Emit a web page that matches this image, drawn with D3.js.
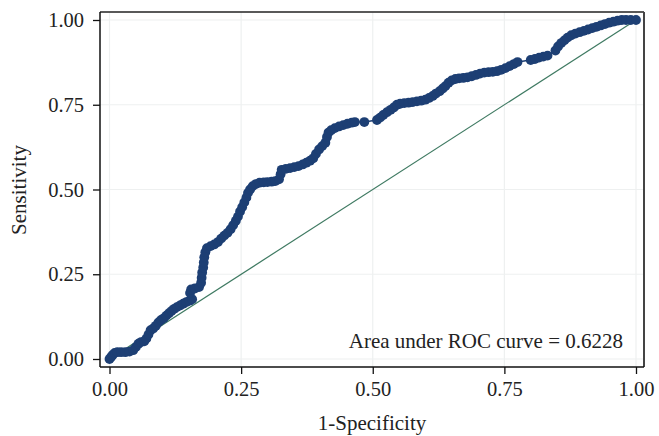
<!DOCTYPE html>
<html><head><meta charset="utf-8">
<script src="https://cdn.jsdelivr.net/npm/d3@7"></script>
<style>body{margin:0;background:#fff}svg{display:block}</style>
</head><body>
<svg id="c" width="659" height="436"></svg>
<script>
// ROC points (1-Specificity, Sensitivity)
const fpr = [0,0.003,0.006,0.01,0.015,0.022,0.03,0.038,0.045,0.05,0.055,0.06,0.066,0.07,0.074,0.078,0.083,0.088,0.093,0.098,0.103,0.108,0.113,0.118,0.123,0.128,0.134,0.14,0.146,0.152,0.157,
0.153,0.155,0.162,0.17,0.174,0.175,0.176,0.178,0.179,0.18,0.182,0.185,0.192,0.199,0.206,0.212,0.218,0.224,0.23,0.235,0.24,0.244,0.248,0.252,0.256,0.26,0.263,0.267,0.272,0.278,0.285,0.293,0.3,0.308,0.315,0.322,0.325,0.327,0.335,0.343,0.351,0.359,0.367,0.374,0.381,0.387,0.392,0.398,0.404,0.41,0.413,0.416,0.421,0.428,0.436,0.444,0.452,0.46,0.466,0.484,
0.508,0.514,0.52,0.527,0.534,0.54,0.546,0.552,0.56,0.568,0.576,0.584,0.592,0.6,0.607,0.614,0.62,0.627,0.633,0.638,0.644,0.65,0.657,0.664,0.672,0.68,0.688,0.696,0.704,0.712,0.72,0.728,0.736,0.744,0.752,0.76,0.768,0.775,
0.8,0.808,0.816,0.824,0.832,0.847,0.852,0.858,0.864,0.87,0.877,0.885,0.893,0.901,0.909,0.917,0.925,0.933,0.941,0.949,0.957,0.965,0.973,0.981,0.99,1];
const tpr = [0,0.006,0.012,0.018,0.02,0.02,0.02,0.022,0.026,0.035,0.045,0.05,0.052,0.06,0.072,0.085,0.09,0.098,0.108,0.115,0.12,0.128,0.135,0.142,0.148,0.153,0.158,0.163,0.168,0.172,0.176,
0.195,0.205,0.208,0.212,0.225,0.24,0.255,0.27,0.285,0.3,0.315,0.327,0.333,0.338,0.345,0.355,0.364,0.372,0.383,0.395,0.408,0.42,0.435,0.448,0.462,0.476,0.49,0.5,0.51,0.516,0.52,0.521,0.522,0.523,0.525,0.53,0.545,0.558,0.561,0.563,0.566,0.569,0.574,0.579,0.585,0.592,0.605,0.618,0.628,0.638,0.655,0.668,0.675,0.681,0.686,0.69,0.694,0.697,0.699,0.699,
0.705,0.712,0.72,0.728,0.735,0.742,0.75,0.753,0.755,0.756,0.758,0.76,0.762,0.765,0.77,0.776,0.783,0.79,0.798,0.805,0.815,0.822,0.826,0.828,0.829,0.831,0.834,0.838,0.842,0.845,0.846,0.847,0.849,0.853,0.858,0.864,0.87,0.876,
0.882,0.885,0.889,0.892,0.895,0.91,0.922,0.932,0.94,0.948,0.955,0.96,0.964,0.968,0.972,0.976,0.98,0.984,0.988,0.992,0.995,0.998,1,1,1,1];
const ticks = [0, 0.25, 0.5, 0.75, 1];
const tickLabels = ["0.00", "0.25", "0.50", "0.75", "1.00"];
const xTitle = "1-Specificity";
const yTitle = "Sensitivity";
const aucText = "Area under ROC curve = 0.6228";

const svg = d3.select("#c");
const frame = {l:100, r:644, t:12, b:367};
const x = d3.scaleLinear().domain([0,1]).range([109.5, 636]);
const y = d3.scaleLinear().domain([0,1]).range([359, 20]);
const font = "'Liberation Serif', 'DejaVu Serif', serif";

// gridlines
const g = svg.append("g");
g.selectAll("line.vx").data(ticks).join("line")
  .attr("x1", d=>x(d)).attr("x2", d=>x(d)).attr("y1", frame.t).attr("y2", frame.b)
  .attr("stroke", "#eef0f0").attr("stroke-width", 1.2);
g.selectAll("line.hy").data(ticks).join("line")
  .attr("y1", d=>y(d)).attr("y2", d=>y(d)).attr("x1", frame.l).attr("x2", frame.r)
  .attr("stroke", "#eef0f0").attr("stroke-width", 1.2);

// frame (top/right)
svg.append("line").attr("x1", frame.l).attr("x2", frame.r).attr("y1", frame.t).attr("y2", frame.t)
  .attr("stroke", "#222").attr("stroke-width", 1.5);
svg.append("line").attr("x1", frame.r).attr("x2", frame.r).attr("y1", frame.t).attr("y2", frame.b)
  .attr("stroke", "#444").attr("stroke-width", 2);

// diagonal reference
svg.append("line").attr("x1", x(0)).attr("y1", y(0)).attr("x2", x(1)).attr("y2", y(1))
  .attr("stroke", "#3f7a62").attr("stroke-width", 1.2);

// ROC curve
const pts = fpr.map((d,i)=>[d, tpr[i]]);
svg.append("path").datum(pts)
  .attr("d", d3.line().x(d=>x(d[0])).y(d=>y(d[1])))
  .attr("fill", "none").attr("stroke", "#1d3f74").attr("stroke-width", 1.4);
svg.append("g").selectAll("circle").data(pts).join("circle")
  .attr("cx", d=>x(d[0])).attr("cy", d=>y(d[1])).attr("r", 4.9)
  .attr("fill", "#1d3f74");

// axes
const xAxis = d3.axisBottom(x).tickValues(ticks).tickFormat((d,i)=>tickLabels[i]).tickSize(7).tickPadding(7).tickSizeOuter(0);
const yAxis = d3.axisLeft(y).tickValues(ticks).tickFormat((d,i)=>tickLabels[i]).tickSize(7).tickPadding(9).tickSizeOuter(0);
const xa = svg.append("g").attr("transform", `translate(0,${frame.b})`).call(xAxis);
const ya = svg.append("g").attr("transform", `translate(${frame.l},0)`).call(yAxis);
xa.select(".domain").attr("d", `M${frame.l},0H${frame.r}`);
ya.select(".domain").attr("d", `M0,${frame.t}V${frame.b}`);
[xa, ya].forEach(a=>{
  a.selectAll(".domain").attr("stroke", "#111").attr("stroke-width", 1.5);
  a.selectAll(".tick line").attr("stroke", "#111").attr("stroke-width", 1.3);
  a.selectAll("text").attr("font-family", font).attr("font-size", 20.5).attr("fill", "#222");
});

// titles
svg.append("text").attr("x", 372).attr("y", 430).attr("text-anchor", "middle")
  .attr("font-family", font).attr("font-size", 21).attr("fill", "#222").text(xTitle);
svg.append("text").attr("transform", "translate(26,190) rotate(-90)").attr("text-anchor", "middle")
  .attr("font-family", font).attr("font-size", 21).attr("fill", "#222").text(yTitle);
svg.append("text").attr("x", 623).attr("y", 348).attr("text-anchor", "end")
  .attr("font-family", font).attr("font-size", 21).attr("fill", "#222").text(aucText);
</script>
</body></html>
